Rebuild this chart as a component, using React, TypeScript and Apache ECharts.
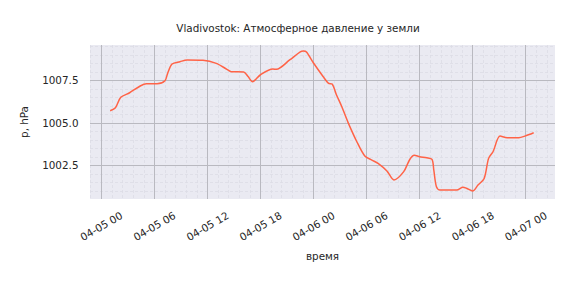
import React, { useEffect, useRef } from "react";
import * as echarts from "echarts";

// hours since 04-05 00:00
const hours = [
  1.0, 1.6, 2.2, 3.2, 4.4, 5.1, 6.3, 7.2, 7.5, 8.0, 8.9, 9.7, 11.5, 13.0, 14.2, 14.7,
  16.1, 16.6, 17.1, 18.0, 19.4, 19.8, 21.3, 22.5, 22.85, 23.2, 24.0, 25.1, 25.7, 26.1,
  26.6, 27.2, 27.9, 28.9, 29.8, 30.6, 31.3, 32.3, 33.1, 34.2, 34.9, 35.4, 36.0, 36.8,
  37.4, 37.6, 37.9, 38.3, 40.2, 40.9, 41.3, 42.0, 42.6, 43.3, 43.8, 44.3, 45.1, 45.9,
  47.2, 47.9, 48.9,
];
const pressure = [
  1005.71, 1005.89, 1006.5, 1006.77, 1007.17, 1007.3, 1007.3, 1007.48, 1007.91, 1008.46,
  1008.6, 1008.7, 1008.68, 1008.5, 1008.15, 1008.01, 1007.99, 1007.72, 1007.42, 1007.83,
  1008.17, 1008.15, 1008.7, 1009.17, 1009.22, 1009.17, 1008.52, 1007.71, 1007.32, 1007.28,
  1006.64, 1005.95, 1005.03, 1003.89, 1003.05, 1002.81, 1002.62, 1002.17, 1001.64, 1002.13,
  1002.86, 1003.09, 1003.01, 1002.95, 1002.85, 1002.23, 1001.24, 1001.05, 1001.05, 1001.21,
  1001.15, 1000.99, 1001.34, 1001.73, 1002.91, 1003.3, 1004.22, 1004.13, 1004.13, 1004.22,
  1004.42,
];
const xTickHours = [0, 6, 12, 18, 24, 30, 36, 42, 48];
const xTickLabels = [
  "04-05 00", "04-05 06", "04-05 12", "04-05 18", "04-06 00",
  "04-06 06", "04-06 12", "04-06 18", "04-07 00",
];
const yTicks = [1002.5, 1005.0, 1007.5];

const X_MIN = -1.28;
const X_MAX = 51.31;
const Y_MIN = 1000.52;
const Y_MAX = 1009.58;

export default function App() {
  const ref = useRef<HTMLDivElement>(null);
  useEffect(() => {
    if (!ref.current) return;
    const chart = echarts.init(ref.current, null, { renderer: "svg" });

    const xMinor: number[] = [];
    for (let k = -1; k * 1.2 <= X_MAX; k++) {
      const v = Math.round(k * 1.2 * 100) / 100;
      if (v >= X_MIN && k % 5 !== 0) xMinor.push(v);
    }
    const yMinor: number[] = [];
    for (let k = 0; 1000 + k * 0.5 <= Y_MAX; k++) {
      const v = 1000 + k * 0.5;
      if (v >= Y_MIN && !yTicks.includes(v)) yMinor.push(v);
    }

    const font = "DejaVu Sans";
    const txt = "#262626";
    const majorColor = "#b9b9c0";
    const minorColor = "#dcdce5";

    chart.setOption({
      animation: false,
      title: {
        text: "Vladivostok: Атмосферное давление у земли",
        left: 293,
        top: 18,
        textAlign: "center",
        textStyle: { fontSize: 10.4, fontWeight: "normal", color: txt, fontFamily: font },
      },
      grid: {
        left: 90, top: 45, right: 19, bottom: 84,
        show: true, backgroundColor: "#EAEAF2", borderWidth: 0,
      },
      xAxis: [
        {
          type: "value", min: X_MIN, max: X_MAX,
          axisLine: { show: false },
          axisTick: { show: false, customValues: xTickHours },
          axisLabel: {
            customValues: xTickHours,
            formatter: (v: number) => {
              const i = xTickHours.indexOf(Math.round(v));
              return i >= 0 ? xTickLabels[i] : "";
            },
            rotate: 30, align: "center", verticalAlign: "middle", margin: 27,
            fontSize: 10.4, color: txt, fontFamily: font,
          },
          splitLine: { show: true, lineStyle: { color: majorColor, width: 1 } },
          name: "время", nameLocation: "middle", nameGap: 52,
          nameTextStyle: { fontSize: 10.4, color: txt, fontFamily: font },
          z: 1,
        },
        {
          type: "value", min: X_MIN, max: X_MAX, position: "bottom",
          axisLine: { show: false },
          axisTick: { show: false, customValues: xMinor },
          axisLabel: { show: false },
          splitLine: { show: true, lineStyle: { color: minorColor, width: 0.8, type: [3, 2] } },
          z: 0,
        },
      ],
      yAxis: [
        {
          type: "value", min: Y_MIN, max: Y_MAX,
          axisLine: { show: false },
          axisTick: { show: false, customValues: yTicks },
          axisLabel: {
            customValues: yTicks,
            formatter: (v: number) => v.toFixed(1),
            margin: 11.5, fontSize: 10.4, color: txt, fontFamily: font,
          },
          splitLine: { show: true, lineStyle: { color: majorColor, width: 1 } },
          name: "p, hPa", nameLocation: "middle", nameGap: 61, nameRotate: 90,
          nameTextStyle: { fontSize: 10.4, color: txt, fontFamily: font },
          z: 1,
        },
        {
          type: "value", min: Y_MIN, max: Y_MAX, position: "left",
          axisLine: { show: false },
          axisTick: { show: false, customValues: yMinor },
          axisLabel: { show: false },
          splitLine: { show: true, lineStyle: { color: minorColor, width: 0.8, type: [3, 2] } },
          z: 0,
        },
      ],
      series: [
        {
          type: "line",
          xAxisIndex: 0, yAxisIndex: 0,
          data: hours.map((h, i) => [h, pressure[i]]),
          showSymbol: false,
          smooth: 0.3,
          lineStyle: { color: "#FF6347", width: 1.5 },
          z: 5,
        },
      ],
    });
    return () => chart.dispose();
  }, []);
  return <div ref={ref} style={{ width: 574, height: 283, position: "absolute", left: 0, top: 0 }} />;
}
